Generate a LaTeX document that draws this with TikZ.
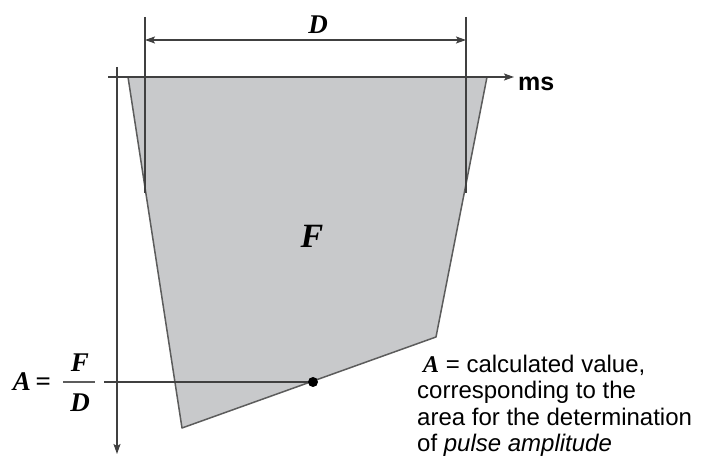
\documentclass[tikz,border=0pt]{standalone}
\usepackage{fontspec}
\setmainfont{Liberation Serif}
\setsansfont{Liberation Sans}
\usetikzlibrary{arrows.meta}
\definecolor{areafill}{HTML}{C8C9CB}
\definecolor{edgegray}{HTML}{5C5C5C}
\definecolor{axisgray}{HTML}{404040}
\tikzset{
  axisline/.style={draw=axisgray, line width=1.4pt},
  dimline/.style={draw=axisgray, line width=1.2pt},
  tip/.style={-{Stealth[length=10pt,width=7pt,inset=2pt]}},
  dtip/.style={{Stealth[length=10pt,width=7pt,inset=2pt]}-{Stealth[length=10pt,width=7pt,inset=2pt]}},
  sym/.style={font=\fontsize{27}{29}\selectfont\bfseries\itshape, inner sep=0pt},
  bigsym/.style={font=\fontsize{34}{36}\selectfont\bfseries\itshape, inner sep=0pt},
  note/.style={font=\fontsize{24}{26}\selectfont\sffamily, inner sep=0pt, anchor=base west},
}
\begin{document}
\begin{tikzpicture}[x=1pt,y=-1pt]
\useasboundingbox (0,0) rectangle (705,465);
% polygon vertices
\coordinate (p1) at (128,77);
\coordinate (p2) at (487,77);
\coordinate (p3) at (436,337);
\coordinate (p4) at (182,428);
\fill[areafill] (p1) -- (p2) -- (p3) -- (p4) -- cycle;
\draw[edgegray, line width=1.5pt, line join=round] (p1) -- (p2) -- (p3) -- (p4) -- cycle;
% dimension lines
\coordinate (dlt) at (145,17);
\coordinate (dlb) at (145,193);
\coordinate (drt) at (466,17);
\coordinate (drb) at (466,193);
\draw[dimline] (dlt) -- (dlb);
\draw[dimline] (drt) -- (drb);
\coordinate (dl) at (145,40);
\coordinate (dr) at (466,40);
\draw[dimline, dtip] (dl) -- (dr);
\node[sym, anchor=base] (Dlab) at (318,34) {D};
% axes
\coordinate (hx0) at (108,77);
\coordinate (hx1) at (514,77);
\draw[axisline, tip] (hx0) -- (hx1);
\node[font=\fontsize{25}{27}\selectfont\sffamily\bfseries, inner sep=0pt, anchor=base west] (ms) at (518,91) {ms};
\coordinate (vy0) at (117,67);
\coordinate (vy1) at (117,454);
\draw[axisline, tip] (vy0) -- (vy1);
% F label
\node[bigsym, anchor=base] (Flab) at (312,248) {F};
% A = F/D
\node[sym, anchor=base east] (Aeq) at (51,391) {A\,=};
\node[sym, anchor=base] (Fnum) at (80,371) {F};
\node[sym, anchor=base] (Dden) at (80,411) {D};
\coordinate (bar0) at (63,382);
\coordinate (bar1) at (95,382);
\draw[edgegray, line width=1.4pt] (bar0) -- (bar1);
\coordinate (hl0) at (104,382);
\coordinate (dot) at (313,382);
\draw[axisline] (hl0) -- (dot);
\fill[black] (dot) circle (5pt);
% note text
\node[note] (n1) at (423,373) {\textrm{\bfseries\itshape A} = calculated value,};
\node[note] (n2) at (417,399) {corresponding to the};
\node[note] (n3) at (417,425) {area for the determination};
\node[note] (n4) at (417,451) {of \textit{pulse amplitude}};
\end{tikzpicture}
\end{document}
